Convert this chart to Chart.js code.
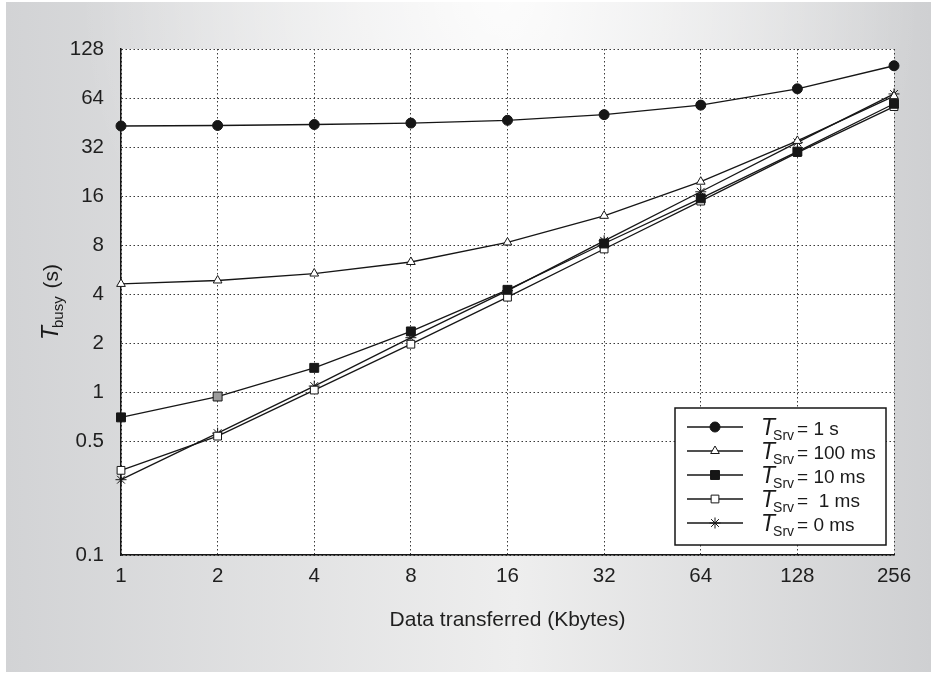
<!DOCTYPE html>
<html>
<head>
<meta charset="utf-8">
<script src="https://cdn.jsdelivr.net/npm/chart.js@4/dist/chart.umd.min.js"></script>
<style>
  html, body { margin: 0; padding: 0; background: #fff; }
  canvas { display: block; }
</style>
</head>
<body>
<canvas id="busyChart" width="935" height="673"></canvas>
<script>
// data (x = Kbytes, y = seconds)
const sizes = ['1', '2', '4', '8', '16', '32', '64', '128', '256'];
const srv1s = [43.1, 43.4, 44.0, 44.9, 46.7, 50.6, 57.9, 72.9, 101];
const srv100ms = [4.62, 4.85, 5.35, 6.3, 8.3, 12.1, 19.6, 34.9, 65.7];
const srv10ms = [0.70, 0.94, 1.41, 2.36, 4.25, 8.18, 15.5, 30.0, 59];
const srv1ms = [0.331, 0.537, 1.03, 1.97, 3.83, 7.57, 14.9, 29.6, 56.7];
const srv0ms = [0.29, 0.56, 1.09, 2.16, 4.2, 8.5, 17.0, 34.2, 67.8];
const yTicks = [0.1, 0.5, 1, 2, 4, 8, 16, 32, 64, 128];
const legendLabels = ['= 1 s', '= 100 ms', '= 10 ms', '=  1 ms', '= 0 ms'];

const ink = '#161616';
const font = '"Liberation Sans", Arial, sans-serif';

function series(label, data, style, radius, fill) {
  return {
    label: label,
    data: data,
    borderColor: ink,
    borderWidth: 1.3,
    pointStyle: style,
    pointRadius: radius,
    pointHoverRadius: radius,
    pointBackgroundColor: fill,
    pointBorderColor: ink,
    pointBorderWidth: 1,
    tension: 0,
    clip: false
  };
}

const backdrop = {
  id: 'backdrop',
  beforeDraw(chart) {
    const { ctx, width, height, chartArea } = chart;
    ctx.save();
    ctx.fillStyle = '#fff';
    ctx.fillRect(0, 0, width, height);
    const g = ctx.createLinearGradient(6, 0, width - 4, 0);
    g.addColorStop(0, '#d2d3d5');
    g.addColorStop(0.55, '#eeeeee');
    g.addColorStop(1, '#cfd0d2');
    ctx.fillStyle = g;
    ctx.fillRect(6, 2, width - 10, height - 3);
    const r = ctx.createRadialGradient(500, 0, 10, 500, 0, 420);
    r.addColorStop(0, 'rgba(255,255,255,0.8)');
    r.addColorStop(1, 'rgba(255,255,255,0)');
    ctx.fillStyle = r;
    ctx.fillRect(6, 2, width - 10, height - 3);
    ctx.fillStyle = '#fff';
    ctx.fillRect(chartArea.left, chartArea.top, chartArea.right - chartArea.left, chartArea.bottom - chartArea.top);
    ctx.restore();
  }
};

function drawMarker(ctx, style, radius, x, y) {
  if (Chart.helpers && Chart.helpers.drawPoint) {
    Chart.helpers.drawPoint(ctx, { pointStyle: style, radius: radius, borderWidth: 1, rotation: 0 }, x, y);
  }
}

const srvLegend = {
  id: 'srvLegend',
  afterDatasetsDraw(chart) {
    const { ctx, chartArea } = chart;
    const w = 211, h = 137;
    const left = chartArea.right - 8 - w;
    const top = chartArea.bottom - 10 - h;
    ctx.save();
    ctx.fillStyle = '#fff';
    ctx.fillRect(left, top, w, h);
    ctx.strokeStyle = ink;
    ctx.lineWidth = 1.5;
    ctx.strokeRect(left, top, w, h);
    chart.data.datasets.forEach((ds, i) => {
      const y = top + 19 + i * 24;
      ctx.strokeStyle = ink;
      ctx.lineWidth = 1.3;
      ctx.beginPath();
      ctx.moveTo(left + 12, y);
      ctx.lineTo(left + 68, y);
      ctx.stroke();
      ctx.lineWidth = 1;
      ctx.fillStyle = typeof ds.pointBackgroundColor === 'function' ? ink : ds.pointBackgroundColor;
      drawMarker(ctx, ds.pointStyle, ds.pointRadius, left + 40, y);

      let x = left + 86;
      ctx.fillStyle = '#1a1a1a';
      ctx.textBaseline = 'alphabetic';
      ctx.textAlign = 'left';
      ctx.font = 'italic 23px ' + font;
      ctx.fillText('T', x, y + 8);
      x += ctx.measureText('T').width - 2;
      ctx.font = '14px ' + font;
      ctx.fillText('Srv', x, y + 13);
      x += ctx.measureText('Srv').width + 3;
      ctx.font = '19px ' + font;
      ctx.fillText(legendLabels[i], x, y + 8);
    });
    ctx.restore();
  }
};

const yTitle = {
  id: 'yTitle',
  afterDraw(chart) {
    const { ctx, chartArea } = chart;
    ctx.save();
    ctx.translate(50, (chartArea.top + chartArea.bottom) / 2);
    ctx.rotate(-Math.PI / 2);
    ctx.fillStyle = '#1a1a1a';
    ctx.textBaseline = 'alphabetic';
    ctx.textAlign = 'left';
    const parts = [
      { t: 'T', f: 'italic 23px ' + font, dy: 8, gap: -2 },
      { t: 'busy', f: '15px ' + font, dy: 13, gap: 2 },
      { t: ' (s)', f: '21px ' + font, dy: 8, gap: 0 }
    ];
    let total = 0;
    parts.forEach(p => { ctx.font = p.f; total += ctx.measureText(p.t).width + p.gap; });
    let x = -total / 2;
    parts.forEach(p => {
      ctx.font = p.f;
      ctx.fillText(p.t, x, p.dy);
      x += ctx.measureText(p.t).width + p.gap;
    });
    ctx.restore();
  }
};

const dotted = { display: true, color: ink, width: 1.5, dash: [1.5, 2.5] };

new Chart(document.getElementById('busyChart').getContext('2d'), {
  type: 'line',
  data: {
    labels: sizes,
    datasets: [
      series('1 s', srv1s, 'circle', 5, ink),
      series('100 ms', srv100ms, 'triangle', 5, '#fff'),
      series('10 ms', srv10ms, 'rect', 6.3, c => (c.dataIndex === 1 ? '#9c9c9c' : ink)),
      series('1 ms', srv1ms, 'rect', 5.5, '#fff'),
      series('0 ms', srv0ms, 'star', 5.5, '#fff')
    ]
  },
  options: {
    responsive: false,
    animation: false,
    devicePixelRatio: 1,
    layout: { padding: { left: 0, right: 41, top: 49, bottom: 0 } },
    plugins: {
      legend: { display: false },
      tooltip: { enabled: false }
    },
    scales: {
      x: {
        type: 'category',
        offset: false,
        grid: { color: '#3a3a3a', lineWidth: 1, drawTicks: false },
        border: dotted,
        ticks: { color: '#1f1f1f', padding: 9, font: { family: font, size: 20.5 }, maxRotation: 0 },
        title: {
          display: true,
          text: 'Data transferred (Kbytes)',
          color: '#1f1f1f',
          font: { family: font, size: 21 },
          padding: { top: 0, bottom: 40 }
        },
        afterFit: s => { s.height = 118; }
      },
      y: {
        type: 'logarithmic',
        min: 0.1,
        max: 128,
        grid: { color: '#3a3a3a', lineWidth: 1, drawTicks: false },
        border: dotted,
        ticks: {
          color: '#1f1f1f',
          padding: 17,
          font: { family: font, size: 20.5 },
          callback: v => String(v)
        },
        afterBuildTicks: s => { s.ticks = yTicks.map(v => ({ value: v })); },
        afterFit: s => { s.width = 121; }
      }
    }
  },
  plugins: [backdrop, srvLegend, yTitle]
});
</script>
</body>
</html>
